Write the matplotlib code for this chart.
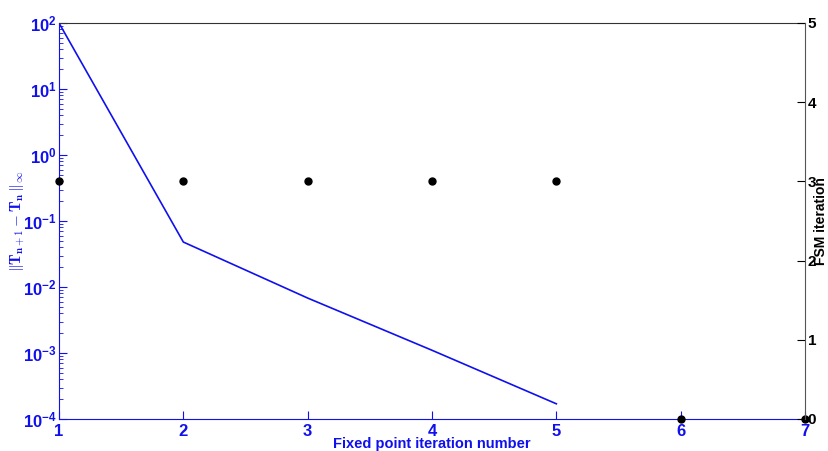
import matplotlib
matplotlib.use("Agg")
import matplotlib.pyplot as plt
from matplotlib.ticker import LogLocator, NullFormatter

iterations = [1, 2, 3, 4, 5]
residual = [100.0, 0.048, 0.0068, 0.0011, 0.00017]
fsm_x = [1, 2, 3, 4, 5, 6, 7]
fsm_iters = [3, 3, 3, 3, 3, 0, 0]

plt.rcParams["font.family"] = ["Liberation Sans", "DejaVu Sans"]
plt.rcParams["font.weight"] = "bold"

blue = "#1010ee"

fig = plt.figure(figsize=(8.29, 4.51), dpi=100)
ax = fig.add_axes([59 / 829, 32 / 451, 746 / 829, 396 / 451])
ax.semilogy(iterations, residual, color=blue, linewidth=1.2)
ax.set_xlim(1, 7)
ax.set_ylim(1e-4, 1e2)
ax.set_xticks(range(1, 8))
ax.yaxis.set_major_locator(LogLocator(base=10, numticks=10))
ax.yaxis.set_minor_locator(LogLocator(base=10, subs=range(2, 10), numticks=20))
ax.yaxis.set_minor_formatter(NullFormatter())
ax.tick_params(axis="both", which="both", direction="in", colors=blue,
               labelsize=12, top=False)
ax.tick_params(which="major", length=6)
ax.tick_params(which="minor", length=3)
ax.tick_params(axis="y", pad=1.5)
for lab in ax.get_xticklabels() + ax.get_yticklabels():
    lab.set_fontweight("bold")
ax.spines["left"].set_color(blue)
ax.spines["bottom"].set_color(blue)
ax.spines["top"].set_color("#333333")
ax.spines["right"].set_visible(False)
ax.set_xlabel("Fixed point iteration number", color=blue, fontsize=10.5,
              fontweight="bold")
ax.xaxis.set_label_coords(0.5, -0.045)
ax.set_ylabel(r"$\|\mathbf{T}_{\mathbf{n+1}}-\mathbf{T}_{\mathbf{n}}\,\|_\infty$",
              color=blue, fontsize=11, math_fontfamily="cm")
ax.yaxis.set_label_coords(-0.043, 0.5)

ax2 = ax.twinx()
ax2.plot(fsm_x, fsm_iters, "o", color="black", markersize=5, clip_on=False)
ax2.set_ylim(0, 5)
ax2.set_xlim(1, 7)
ax2.set_yticks(range(0, 6))
ax2.tick_params(axis="y", direction="in", colors="black", labelsize=11, length=6, pad=2)
for lab in ax2.get_yticklabels():
    lab.set_fontweight("bold")
for side in ["left", "bottom", "top"]:
    ax2.spines[side].set_visible(False)
ax2.spines["right"].set_color("#555555")
ax2.set_ylabel("FSM iteration", color="black", fontsize=10, fontweight="bold")
ax2.yaxis.set_label_coords(1.012, 0.5)

fig.savefig("out.png", dpi=100)
